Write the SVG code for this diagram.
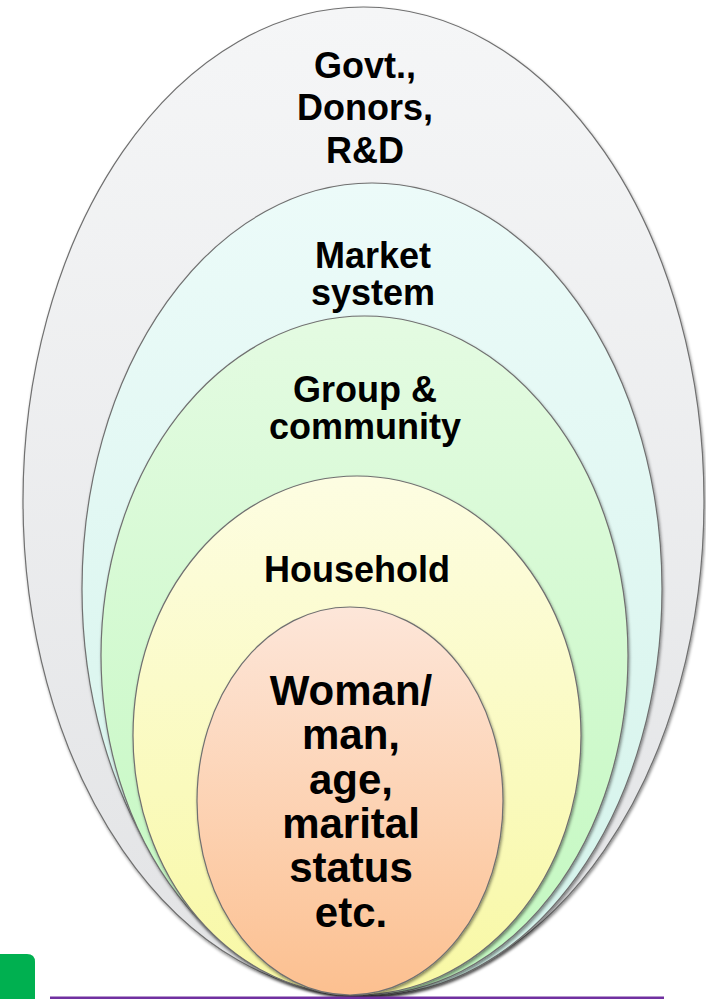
<svg xmlns="http://www.w3.org/2000/svg" width="706" height="999" viewBox="0 0 706 999">
<style>
.ring{stroke:#707070;stroke-width:1.2;filter:url(#sh);}
.lbl{font-family:"Liberation Sans",Arial,sans-serif;font-weight:bold;font-size:36px;fill:#000;text-anchor:middle;}
.big{font-size:42px;}
</style>
<defs>
<filter id="sh" x="-10%" y="-10%" width="120%" height="120%">
<feDropShadow dx="1" dy="2" stdDeviation="1.8" flood-color="#000" flood-opacity="0.45"/>
</filter>
<linearGradient id="g1" x1="0" y1="0" x2="0" y2="1"><stop offset="0" stop-color="#f5f6f7"/><stop offset="1" stop-color="#e2e3e5"/></linearGradient>
<linearGradient id="g2" x1="0" y1="0" x2="0" y2="1"><stop offset="0" stop-color="#ecfbf9"/><stop offset="1" stop-color="#d3f3ea"/></linearGradient>
<linearGradient id="g3" x1="0" y1="0" x2="0" y2="1"><stop offset="0" stop-color="#e4fbe2"/><stop offset="1" stop-color="#c2f8bf"/></linearGradient>
<linearGradient id="g4" x1="0" y1="0" x2="0" y2="1"><stop offset="0" stop-color="#fdfde2"/><stop offset="1" stop-color="#f8f8a4"/></linearGradient>
<linearGradient id="g5" x1="0" y1="0" x2="0" y2="1"><stop offset="0" stop-color="#fde6d9"/><stop offset="1" stop-color="#fcc090"/></linearGradient>
</defs>
<g id="govt">
<ellipse class="ring" cx="363.5" cy="501" rx="340.5" ry="494" fill="url(#g1)"/>
<text class="lbl" x="365" y="78">Govt.,</text>
<text class="lbl" x="365" y="120">Donors,</text>
<text class="lbl" x="365" y="163">R&amp;D</text>
</g>
<g id="market">
<ellipse class="ring" cx="372" cy="589" rx="290" ry="406" fill="url(#g2)"/>
<text class="lbl" x="373" y="268">Market</text>
<text class="lbl" x="373" y="305">system</text>
</g>
<g id="community">
<ellipse class="ring" cx="364.5" cy="655.5" rx="263.5" ry="339.5" fill="url(#g3)"/>
<text class="lbl" x="365" y="402">Group &amp;</text>
<text class="lbl" x="365" y="439">community</text>
</g>
<g id="household">
<ellipse class="ring" cx="357" cy="735.5" rx="224" ry="259.5" fill="url(#g4)"/>
<text class="lbl" x="357" y="582">Household</text>
</g>
<g id="individual">
<ellipse class="ring" cx="350" cy="801" rx="153" ry="194" fill="url(#g5)"/>
<text class="lbl big" x="351" y="705">Woman/</text>
<text class="lbl big" x="351" y="749">man,</text>
<text class="lbl big" x="351" y="794">age,</text>
<text class="lbl big" x="351" y="838">marital</text>
<text class="lbl big" x="351" y="882">status</text>
<text class="lbl big" x="351" y="927">etc.</text>
</g>
<g id="connectors"></g>
<path d="M0 954 H27 Q35 954 35 962 V999 H0 Z" fill="#00b050"/>
<rect x="50" y="996.5" width="614" height="3" fill="#7030a0"/>
</svg>
